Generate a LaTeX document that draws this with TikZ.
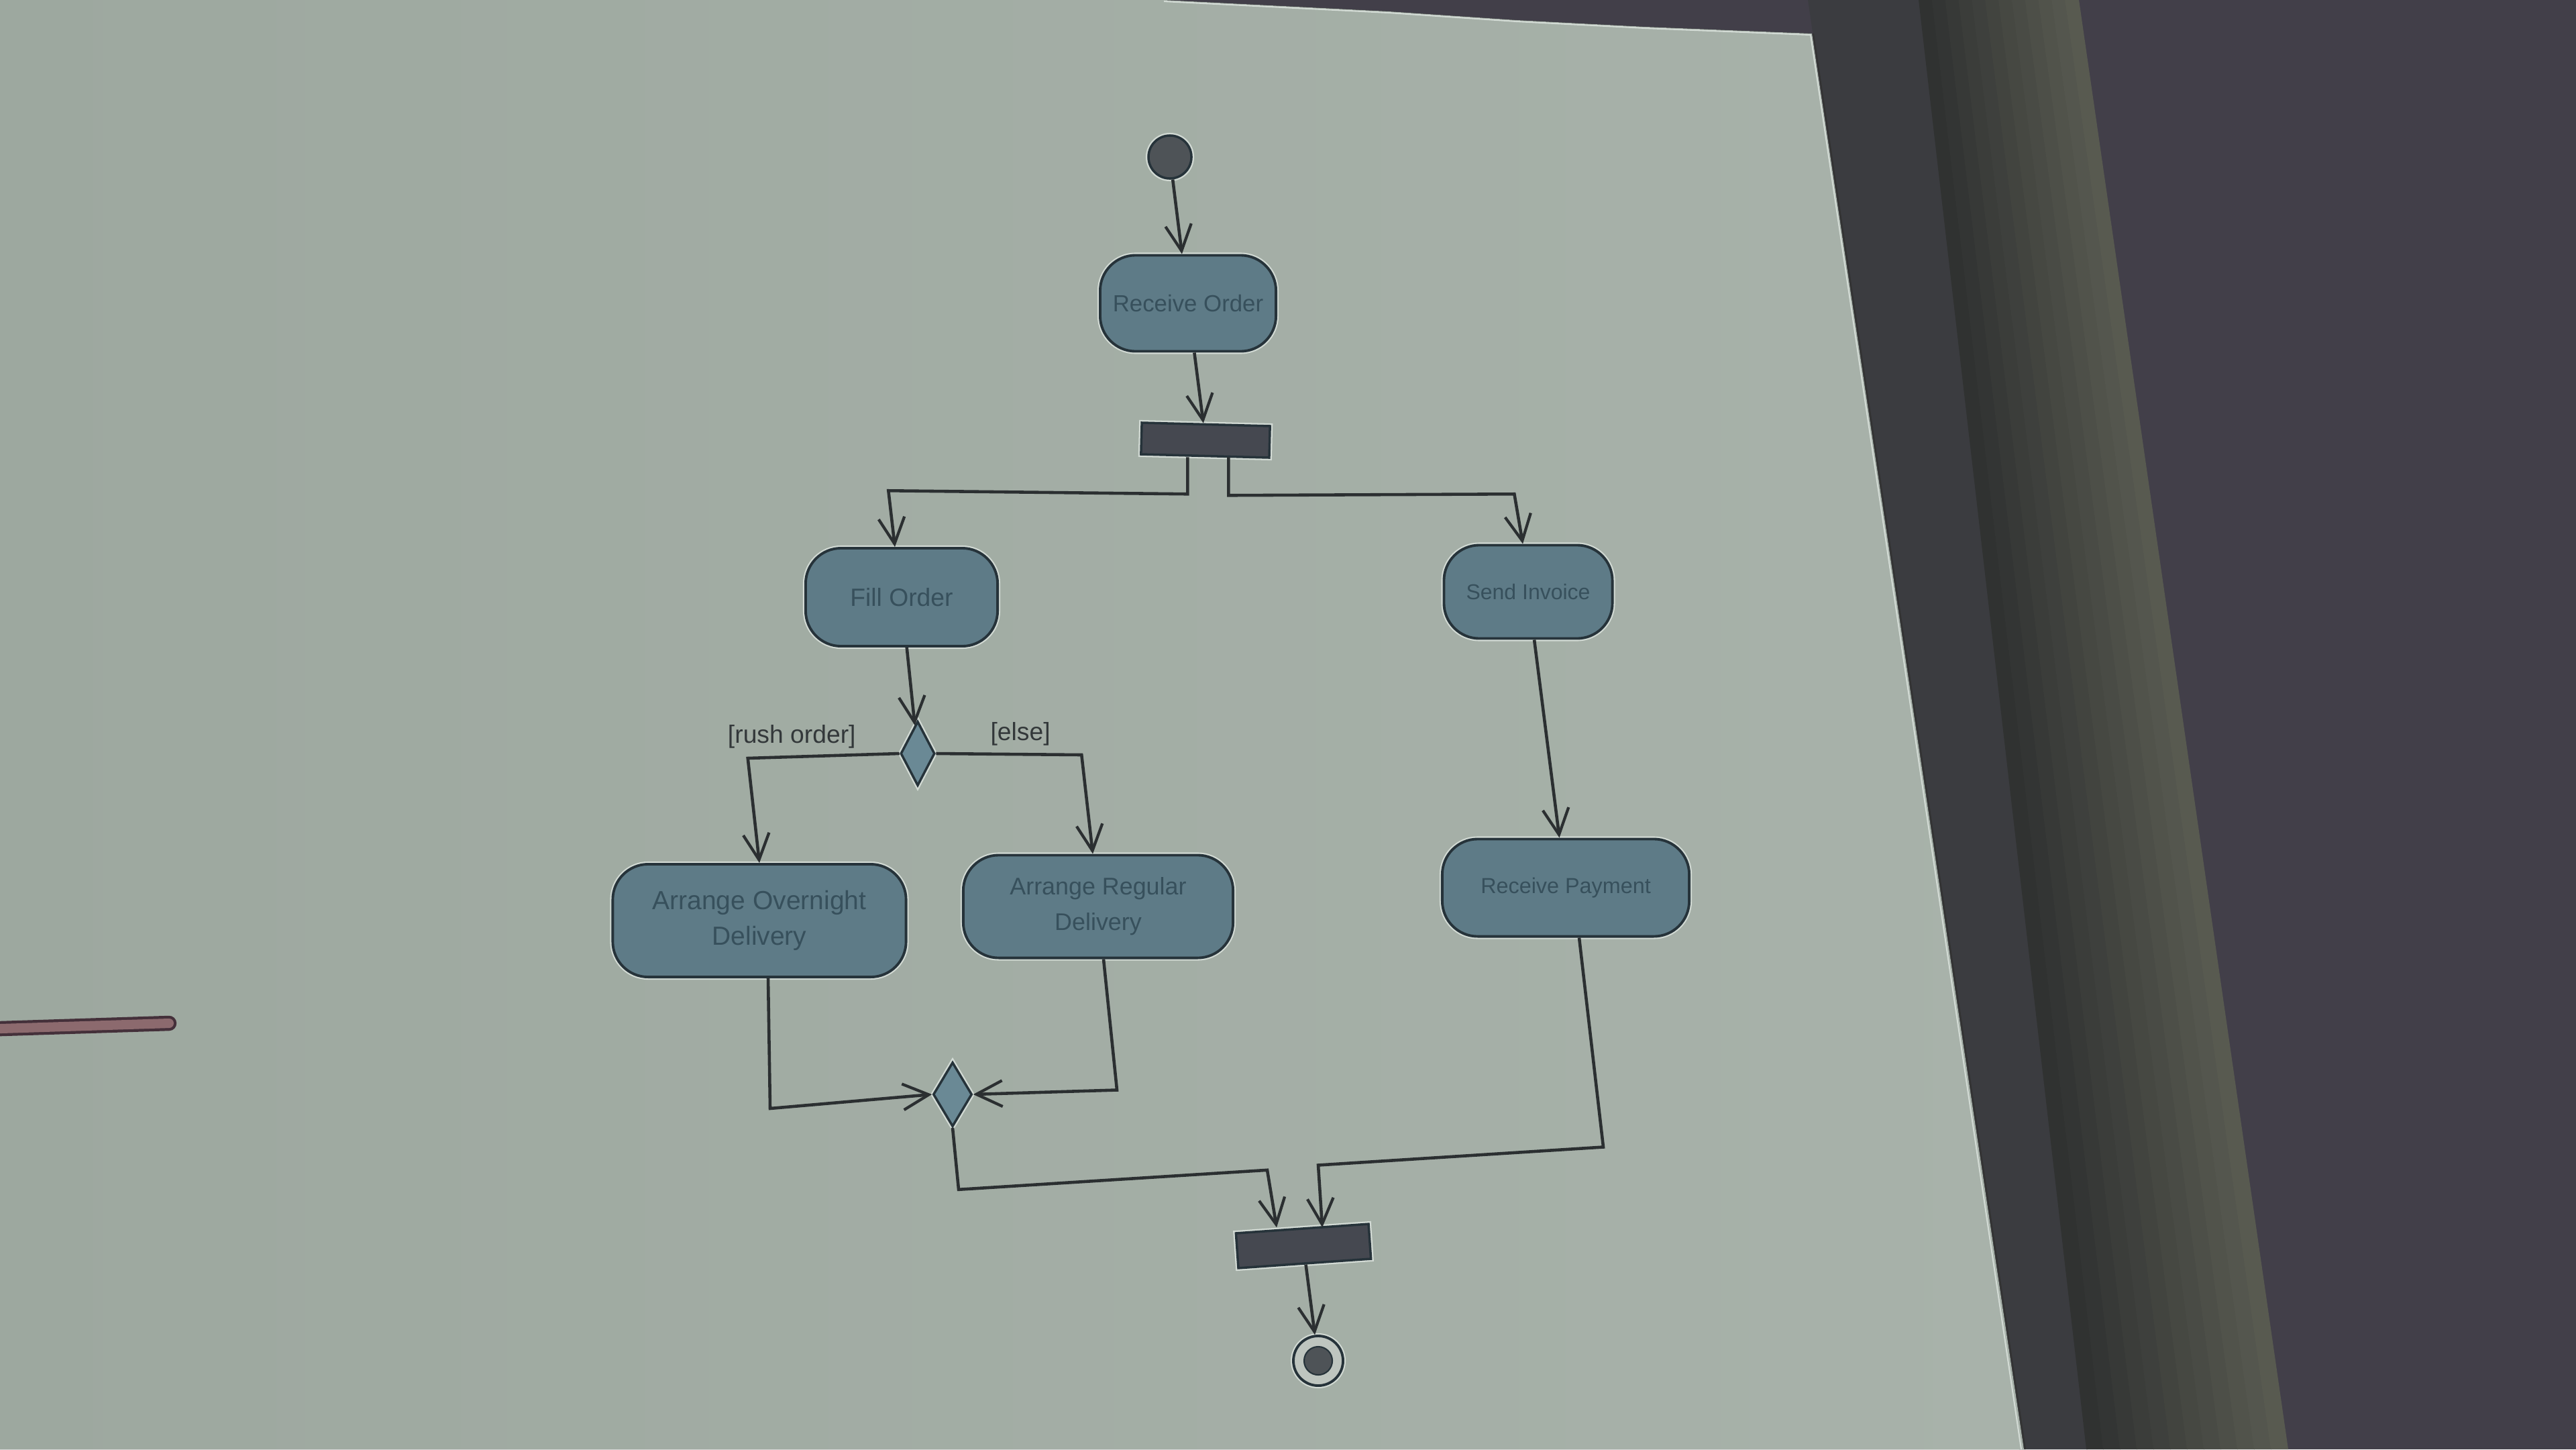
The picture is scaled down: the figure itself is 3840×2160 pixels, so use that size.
\documentclass[tikz,border=0pt]{standalone}
\usepackage{fontspec}
\newfontfamily\diagfont{Liberation Sans}
\usetikzlibrary{arrows.meta,shapes.geometric,calc}
\definecolor{wallc}{HTML}{423F49}
\definecolor{grayband}{HTML}{3B3C40}
\definecolor{darkc}{HTML}{2E3030}
\definecolor{olivehi}{HTML}{5A5C52}
\definecolor{scrL}{HTML}{9DA89F}
\definecolor{scrR}{HTML}{A8B2AA}
\definecolor{boxfill}{HTML}{5E7B87}
\definecolor{boxline}{HTML}{26333A}
\definecolor{boxtext}{HTML}{37505C}
\definecolor{linec}{HTML}{2B2F31}
\definecolor{barfill}{HTML}{454850}
\definecolor{initfill}{HTML}{4E5357}
\definecolor{diafill}{HTML}{6A8995}
\definecolor{lbltext}{HTML}{33383A}
\definecolor{haloc}{HTML}{D2DAD4}
\definecolor{ptrdark}{HTML}{44303A}
\definecolor{ptrfill}{HTML}{8C6A6E}
\begin{document}
\begin{tikzpicture}[x=0.01cm,y=-0.01cm,
  halo/.style={preaction={draw=haloc,line width=2.3pt}},
  fs/.style={font=\diagfont\fontsize{#1}{15}\selectfont},
  act/.style={draw=boxline,line width=1.1pt,fill=boxfill,rounded corners=15pt,
    text=boxtext,align=center,inner sep=0pt,halo},
  bar/.style={draw=boxline,line width=1pt,fill=barfill,inner sep=0pt,halo},
  decision/.style={diamond,draw=boxline,line width=1pt,fill=diafill,inner sep=0pt,halo},
  lbl/.style={text=lbltext,fs=10.6,inner sep=3pt},
  arr/.style={draw=linec,line width=1.3pt,
    -{Straight Barb[length=11pt,width=11pt,line width=1.2pt]}}]
\useasboundingbox (0,0) rectangle (3840,2160);
% background: wall, bands and projection screen
\fill[wallc] (0,0) rectangle (3840,2160);
\fill[grayband] (2695,0) -- (2862,0) -- (3112,2160) -- (3010,2160) -- cycle;
\foreach \i in {0,...,11}{
  \pgfmathsetmacro\ta{2860+\i*238/12}
  \pgfmathsetmacro\tb{2860+(\i+1)*238/12+1}
  \pgfmathsetmacro\ba{3110+\i*300/12}
  \pgfmathsetmacro\bb{3110+(\i+1)*300/12+1}
  \pgfmathtruncatemacro\p{(\i+0.5)*100/12}
  \fill[olivehi!\p!darkc] (\ta,0) -- (\tb,0) -- (\bb,2160) -- (\ba,2160) -- cycle;
}
\fill[left color=scrL,right color=scrR] (0,0) -- (1735,0) -- (2070,17) -- (2261,30)
  -- (2453,40) -- (2701,50) -- (3017,2160) -- (0,2160) -- cycle;
\draw[haloc,line width=0.6pt] (1735,2) -- (2070,19) -- (2261,32) -- (2453,42) -- (2699,52) -- (3013,2160);
\draw[black!80,line width=0.6pt] (2703,50) -- (3019,2160);
% pointer stick
\draw[ptrdark,line width=6.4pt,line cap=round] (-30,1534) -- (252,1525);
\draw[ptrfill,line width=4pt,line cap=round] (-30,1534) -- (252,1525);
% nodes
\node[circle,draw=boxline,line width=1pt,fill=initfill,minimum size=0.64cm,inner sep=0pt,halo] (init) at (1744,234) {};
\node[act,fs=9.9,minimum width=2.62cm,minimum height=1.43cm] (recv) at (1771,452) {Receive Order};
\node[bar,minimum width=1.91cm,minimum height=0.47cm,rotate=-1.5] (fork) at (1797,656) {};
\node[act,fs=10.6,minimum width=2.86cm,minimum height=1.46cm] (fill) at (1344,890) {Fill Order};
\node[act,fs=9.1,minimum width=2.51cm,minimum height=1.39cm] (send) at (2278,882) {Send Invoice};
\node[decision,minimum width=0.51cm,minimum height=0.96cm] (dec) at (1368,1123) {};
\node[act,fs=11.1,minimum width=4.37cm,minimum height=1.68cm] (over) at (1132,1372) {Arrange Overnight\\Delivery};
\node[act,fs=10.2,minimum width=4.02cm,minimum height=1.53cm] (reg) at (1637,1351) {Arrange Regular\\Delivery};
\node[act,fs=9.2,minimum width=3.68cm,minimum height=1.45cm] (pay) at (2334,1323) {Receive Payment};
\node[decision,minimum width=0.58cm,minimum height=0.96cm] (merge) at (1420,1631) {};
\node[bar,minimum width=1.98cm,minimum height=0.52cm,rotate=4] (join) at (1943,1857) {};
\node[circle,draw=boxline,line width=1.1pt,fill=scrR!75!white,minimum size=0.74cm,inner sep=0pt,halo,
  path picture={\fill[initfill,draw=boxline,line width=0.6pt] (path picture bounding box.center) circle (0.21cm);}] (final) at (1965,2028) {};
% connectors
\draw[arr] (init) -- (recv);
\draw[arr] (recv) -- (fork);
\draw[arr] ([xshift=-0.26cm]fork.south) -- ++(0,55) -- ++(-446,-5) -- ([xshift=-0.1cm]fill.north);
\draw[arr] ([xshift=0.35cm]fork.south) -- ++(0,57) -- ++(426,-2) -- ([xshift=-0.08cm]send.north);
\draw[arr] (fill) -- (dec);
\draw[arr] (dec.west) -- node[lbl,above,pos=0.71] {[rush order]} ++(-226,7) -- (over.north);
\draw[arr] (dec.east) -- node[lbl,above,pos=0.58] {[else]} ++(217,2) -- ([xshift=-0.08cm]reg.north);
\draw[arr] (send) -- (pay);
\draw[arr] ([xshift=0.13cm]over.south) -- ++(3,194) -- (merge.west);
\draw[arr] ([xshift=0.08cm]reg.south) -- ++(20,195) -- (merge.east);
\draw[arr] (merge.south) -- ++(9,92) -- ++(460,-29) -- ([xshift=-0.38cm]join.north);
\draw[arr] ([xshift=0.2cm]pay.south) -- ++(36,312) -- ++(-425,27) -- ([xshift=0.3cm]join.north);
\draw[arr] (join) -- (final);
\end{tikzpicture}
\end{document}
